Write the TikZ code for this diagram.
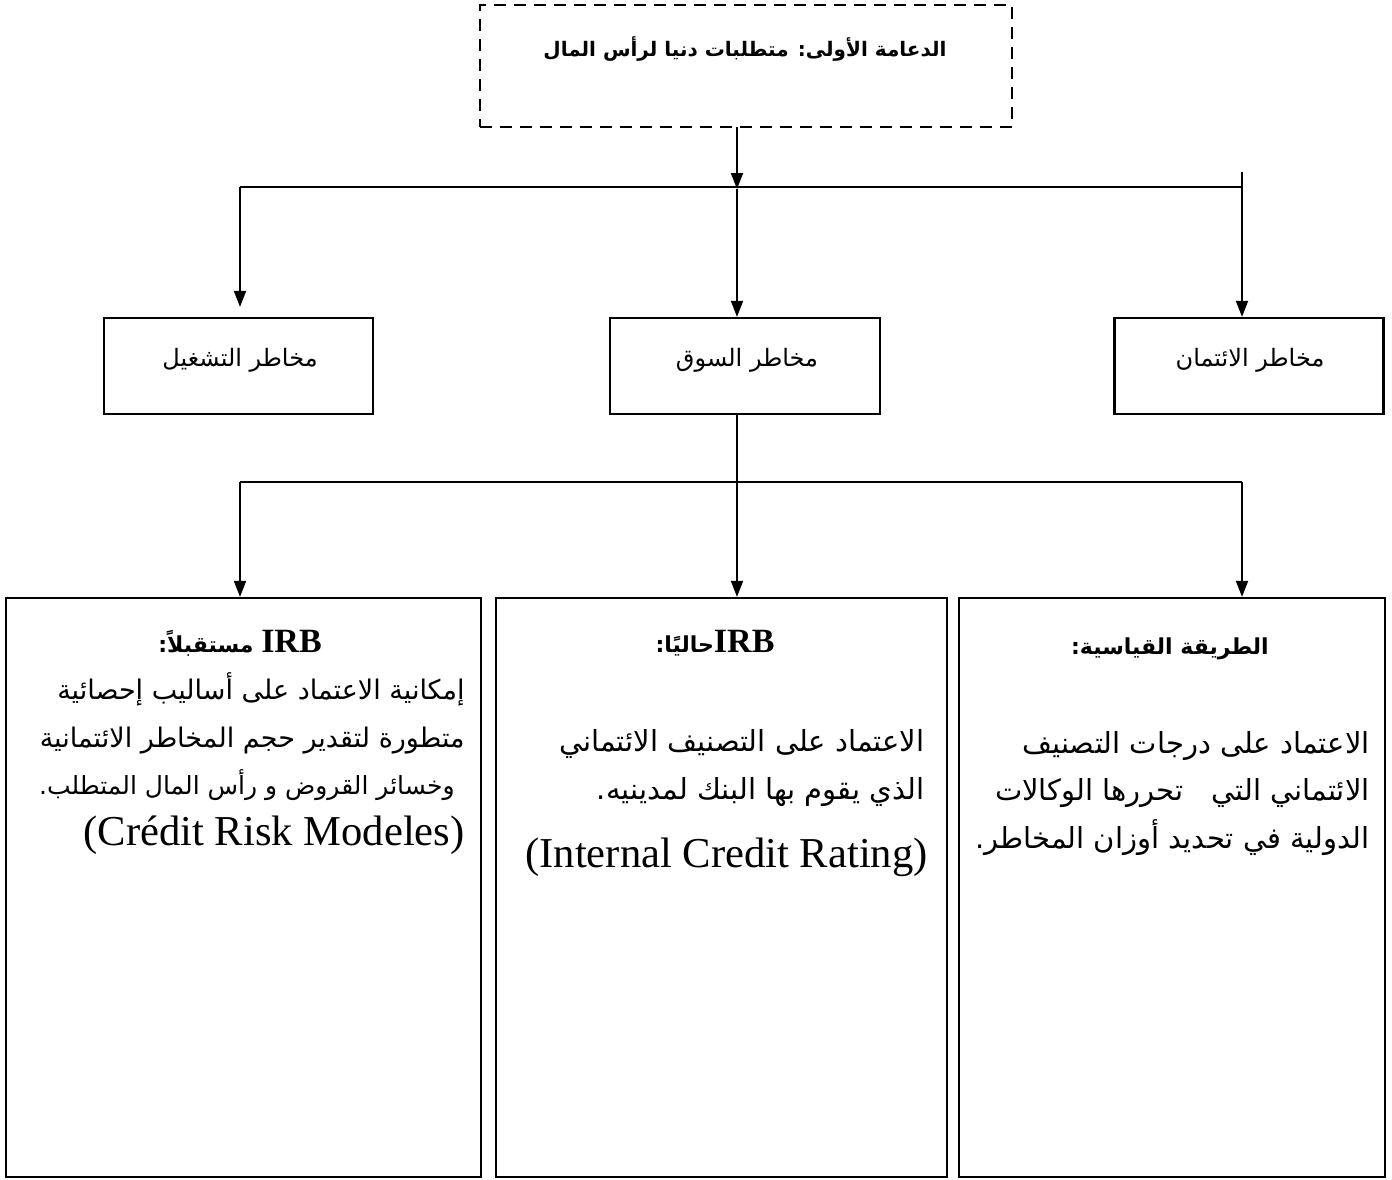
\documentclass[tikz,border=0pt]{standalone}
\usepackage{fontspec}
\setmainfont{Liberation Serif}
\newfontfamily\arabicfont[Script=Arabic]{DejaVu Sans}
\TeXXeTstate=1
\usetikzlibrary{arrows.meta}
\newcommand{\artext}[1]{{\arabicfont\beginR #1\endR}}
\newcommand{\latin}[1]{\beginL #1\endL}

\begin{document}
\begin{tikzpicture}[x=0.5pt,y=-0.5pt,
  box/.style={draw, line width=1.1pt, inner sep=0pt},
  dashbox/.style={draw, line width=1.1pt, dash pattern=on 6pt off 4pt, inner sep=0pt},
  conn/.style={line width=0.9pt},
  arr/.style={line width=0.9pt, -{Triangle[length=8pt,width=6pt]}},
  txt/.style={inner sep=0pt, anchor=base east},
  ttl/.style={inner sep=0pt, anchor=base},
  body/.style={font=\fontsize{14.5}{17}\selectfont},
  bodysmall/.style={font=\fontsize{13.5}{16}\selectfont},
  head/.style={font=\fontsize{11}{14}\selectfont\bfseries},
  lat/.style={font=\fontsize{21.3}{25}\selectfont}
]
\useasboundingbox (0,0) rectangle (1392,1179);

% top pillar box
\node[dashbox, minimum width=266pt, minimum height=61pt] (pillar) at (746,66) {};
\node[ttl, font=\fontsize{10}{13}\selectfont\bfseries] (pillarTitle) at (745,56)
  {\artext{الدعامة الأولى: متطلبات دنيا لرأس المال}};

% three risk boxes
\node[box, minimum width=134.5pt, minimum height=48pt] (opRisk) at (238.5,366) {};
\node[box, minimum width=135pt, minimum height=48pt] (marketRisk) at (745,366) {};
\node[box, minimum width=134.5pt, minimum height=48pt] (creditRisk) at (1249,366) {};
\node[ttl, font=\fontsize{12}{14}\selectfont] (opLabel) at (240,366) {\artext{مخاطر التشغيل}};
\node[ttl, font=\fontsize{12}{14}\selectfont] (marketLabel) at (747,366) {\artext{مخاطر السوق}};
\node[ttl, font=\fontsize{12}{14}\selectfont] (creditLabel) at (1250,366) {\artext{مخاطر الائتمان}};

% first level connectors
\coordinate (pillarOut) at (737,127);
\coordinate (busL) at (240,187);
\coordinate (busM) at (737,189);
\coordinate (busR) at (1242,187);
\coordinate (busRtop) at (1242,172);
\draw[conn] (busL) -- (busR);
\draw[arr] (pillarOut) -- (busM);
\draw[arr, shorten >=5pt] (busL) -- (opRisk.north -| busL);
\draw[arr] (busM) -- (marketRisk.north -| busM);
\draw[arr] (busRtop) -- (creditRisk.north -| busRtop);

% three approach boxes
\node[box, minimum width=237.5pt, minimum height=289.5pt] (futureIRB) at (243.5,887.5) {};
\node[box, minimum width=225.5pt, minimum height=289.5pt] (currentIRB) at (721.5,887.5) {};
\node[box, minimum width=213pt, minimum height=289.5pt] (standard) at (1172,887.5) {};

% second level connectors
\coordinate (marketOut) at (737,414);
\coordinate (bus2L) at (240,482);
\coordinate (bus2M) at (737,482);
\coordinate (bus2R) at (1242,482);
\draw[conn] (marketOut) -- (bus2M);
\draw[conn] (bus2L) -- (bus2R);
\draw[arr] (bus2L) -- (futureIRB.north -| bus2L);
\draw[arr] (bus2M) -- (currentIRB.north -| bus2M);
\draw[arr] (bus2R) -- (standard.north -| bus2R);

% standard approach text
\node[ttl, head] (stdTitle) at (1170,654) {\artext{الطريقة القياسية:}};
\node[txt, body] (std1) at (1370,753) {\artext{الاعتماد على درجات التصنيف}};
\node[txt, body] (std2) at (1370,800) {\artext{الائتماني التي \ \ تحررها الوكالات}};
\node[txt, body] (std3) at (1370,848) {\artext{الدولية في تحديد أوزان المخاطر.}};

% current IRB text
\node[ttl, head] (curTitle) at (715,652)
  {\artext{\latin{{\rmfamily\fontsize{17}{18}\selectfont IRB}}حاليًا:}};
\node[txt, body] (cur1) at (925,751) {\artext{الاعتماد على التصنيف الائتماني}};
\node[txt, body] (cur2) at (925,799) {\artext{الذي يقوم بها البنك لمدينيه.}};
\node[txt, lat] (cur3) at (928,867) {(Internal Credit Rating)};

% future IRB text
\node[ttl, head] (futTitle) at (240,652)
  {\artext{\latin{{\rmfamily\fontsize{17}{18}\selectfont IRB}} مستقبلاً:}};
\node[txt, bodysmall] (fut1) at (465,699) {\artext{إمكانية الاعتماد على أساليب إحصائية}};
\node[txt, bodysmall] (fut2) at (465,747) {\artext{متطورة لتقدير حجم المخاطر الائتمانية}};
\node[txt, font=\fontsize{12.5}{15}\selectfont] (fut3) at (455,794) {\artext{وخسائر القروض و رأس المال المتطلب.}};
\node[txt, lat] (fut4) at (465,845) {(Crédit Risk Modeles)};
\end{tikzpicture}
\end{document}
